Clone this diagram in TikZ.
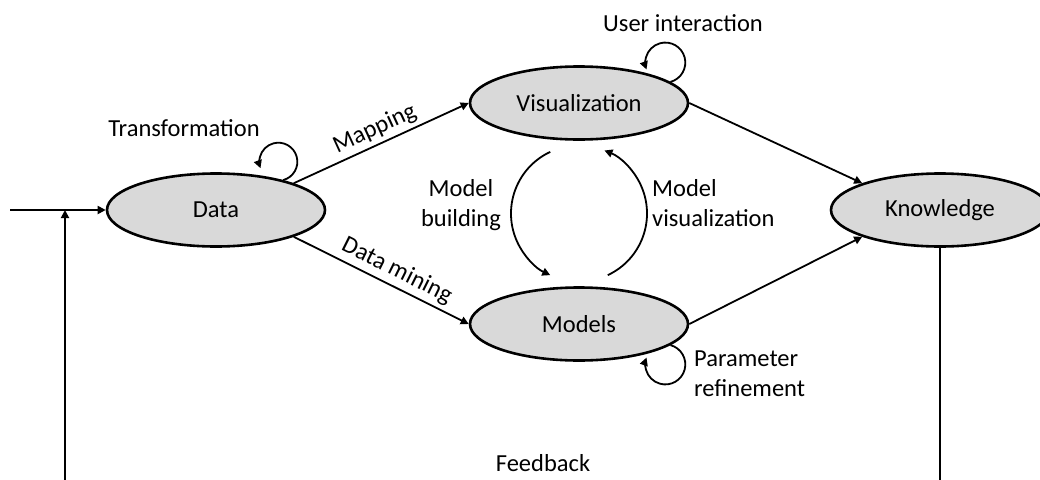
\documentclass[tikz,border=0pt]{standalone}
\usepackage{fontspec}
\setmainfont{Carlito}
\usetikzlibrary{shapes.geometric,arrows.meta,calc}
\definecolor{nodefill}{HTML}{D9D9D9}
\begin{document}
\begin{tikzpicture}[x=1pt,y=1pt,
  font=\fontsize{24.5}{30}\selectfont,
  state/.style={ellipse, draw, line width=2.6pt, fill=nodefill, minimum width=218pt, minimum height=73pt, inner sep=0pt},
  conn/.style={line width=1.8pt, -{Triangle[length=8pt,width=8pt]}},
  lbl/.style={inner sep=0pt}]
\useasboundingbox (0,0) rectangle (1040,-479);
\clip (0,0) rectangle (1040,-479);

\node[state] (Data) at (216,-210) {Data};
\node[state] (Vis) at (579,-103) {Visualization};
\node[state] (Mod) at (579,-324) {Models};
\node[state] (Know) at (940,-210) {Knowledge};

% input and feedback
\coordinate (in) at (10,-210);
\coordinate (j) at (65,-210);
\coordinate (fbR) at (940,-500);
\coordinate (fbL) at (65,-500);
\draw[conn] (in) -- (Data.west);
\draw[conn] (Know.south) -- (fbR) -- (fbL) -- (j);
\node[lbl] (fb) at (543,-463) {Feedback};

% main edges
\draw[conn] (Data.19) -- node[sloped,above,inner sep=4pt] (mapl) {Mapping} (Vis.west);
\draw[conn] (Data.-19) -- node[sloped,above,pos=0.55,inner sep=4pt] (dml) {Data mining} (Mod.west);
\draw[conn] (Vis.east) -- (Know.161);
\draw[conn] (Mod.east) -- (Know.199);

% self loops
\draw[conn] (Data.24) arc[start angle=-75,end angle=200,radius=19];
\draw[conn] (Vis.13) arc[start angle=-75,end angle=200,radius=20];
\draw[conn] (Mod.-13) arc[start angle=75,end angle=-200,radius=20];

\node[lbl] (tr) at (184,-128) {Transformation};
\node[lbl] (ui) at (683,-23) {User interaction};
\node[lbl, anchor=west, align=left] (pr) at (694,-374) {Parameter\\refinement};

% model arcs
\coordinate (mid) at ($(Vis)!0.5!(Mod)$);
\draw[conn] ([shift={(115:68)}]mid) arc[start angle=115,end angle=245,radius=68];
\draw[conn] ([shift={(-65:68)}]mid) arc[start angle=-65,end angle=68,radius=68];

\node[lbl, align=center] (mb) at (461,-205) {Model\\building};
\node[lbl, anchor=west, align=left] (mv) at (652,-203) {Model\\visualization};
\end{tikzpicture}
\end{document}
